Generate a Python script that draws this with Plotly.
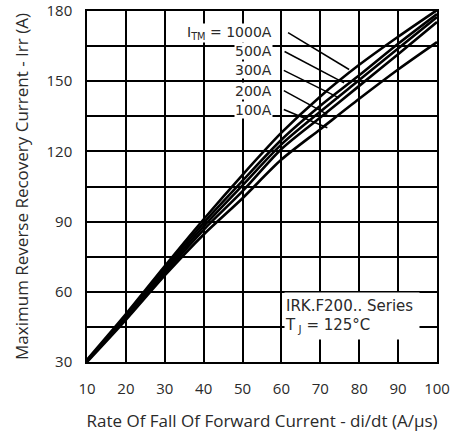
import plotly.graph_objects as go

# di/dt (A/us)
didt = [10, 20, 30, 40, 50, 60, 70, 80, 90, 100]

# Irr (A) per I_TM curve
irr_1000 = [31, 50.5, 71, 91, 110, 128, 143.5, 157, 169, 180.4]
irr_500 = [30.5, 49.5, 70, 89.5, 107.5, 125, 139.5, 152.5, 166, 178.7]
irr_300 = [30.5, 49, 69, 88, 105.5, 123, 137, 150.5, 164, 177.4]
irr_200 = [30.5, 48.5, 68, 86.5, 103, 121, 134.5, 148, 161.5, 175.3]
irr_100 = [30, 48, 67, 84.5, 100, 116.5, 129.5, 142.5, 155, 166.7]

series_names = ["1000A", "500A", "300A", "200A", "100A"]
series_vals = [irr_1000, irr_500, irr_300, irr_200, irr_100]
label_texts = ["I<sub>TM</sub> = 1000A", "500A", "300A", "200A", "100A"]

x_ticks = [10, 20, 30, 40, 50, 60, 70, 80, 90, 100]
y_ticks = [30, 60, 90, 120, 150, 180]

LABELFONT = "DejaVu Sans"
TITLEFONT = "Open Sans"
TICKFONT = "Open Sans"
TXT = "#2a2a2a"

fig = go.Figure()
for name, vals in zip(series_names, series_vals):
    fig.add_trace(go.Scatter(x=didt, y=vals, mode="lines", name=name,
                             line=dict(color="black", width=2.6, shape="spline", smoothing=0.8),
                             showlegend=False, hoverinfo="skip"))

# label positions (data coords) and leader line targets
label_y = [170.8, 162.7, 154.6, 146.0, 137.9]
leader_start_x = [61.7, 60.8, 60.6, 60.6, 60.6]
leader_end = [(77.4, 155.0), (76.1, 149.3), (74.8, 142.9), (71.8, 135.8), (71.8, 130.1)]

for txt, ly, sx, (ex, ey) in zip(label_texts, label_y, leader_start_x, leader_end):
    fig.add_shape(type="line", xref="x", yref="y", x0=sx, y0=ly, x1=ex, y1=ey,
                  line=dict(color="black", width=1.5))
    fig.add_annotation(x=57.9, y=ly, xref="x", yref="y", text=txt, showarrow=False,
                       xanchor="right", yanchor="middle", bgcolor="white",
                       font=dict(family=LABELFONT, size=14, color=TXT), borderpad=0)

fig.add_annotation(x=60.6, y=49.7, xref="x", yref="y",
                   text="IRK.F200.. Series<br>T<sub> J</sub> = 125°C",
                   showarrow=False, xanchor="left", yanchor="middle", align="left",
                   width=134, height=46, valign="middle", bgcolor="white",
                   font=dict(family=LABELFONT, size=15, color=TXT), borderpad=0)

fig.update_xaxes(range=[10, 100], tickvals=x_ticks, showgrid=True, gridcolor="black",
                 gridwidth=1.5, zeroline=False, showline=True, linecolor="black",
                 linewidth=1.5, mirror=True, ticks="", ticklabelstandoff=12,
                 automargin=False,
                 tickfont=dict(family=TICKFONT, size=15, color=TXT),
                 title=dict(text="Rate Of Fall Of Forward Current - di/dt (A/µs)",
                            font=dict(family=TITLEFONT, size=17, color=TXT), standoff=20))
fig.update_yaxes(range=[30, 180], tickvals=y_ticks, showgrid=True, gridcolor="black",
                 gridwidth=1.5, zeroline=False, showline=True, linecolor="black",
                 linewidth=1.5, mirror=True, ticks="", ticklabelstandoff=10,
                 automargin=False,
                 minor=dict(dtick=15, showgrid=True, gridcolor="black", gridwidth=1.5),
                 tickfont=dict(family=TICKFONT, size=15, color=TXT),
                 title=dict(text="Maximum Reverse Recovery Current - Irr (A)",
                            font=dict(family=TITLEFONT, size=17, color=TXT), standoff=14))

fig.update_layout(width=456, height=432, margin=dict(l=87, r=19, t=11, b=70),
                  plot_bgcolor="white", paper_bgcolor="white")

fig.write_html("out.html")
